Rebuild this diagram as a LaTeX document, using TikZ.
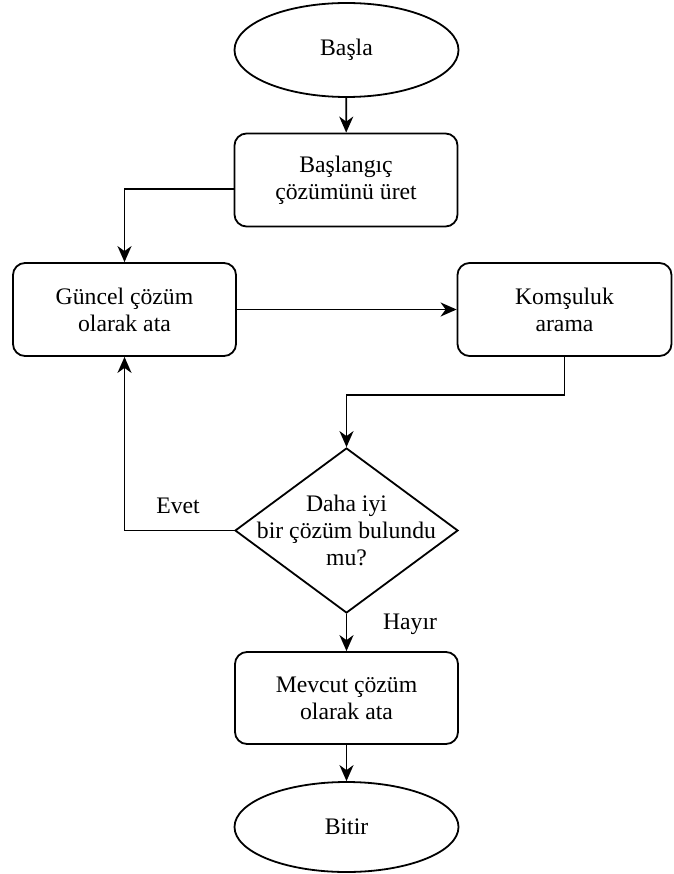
\documentclass[tikz,border=0pt]{standalone}
\usepackage{fontspec}
\setmainfont{Liberation Serif}
\newfontfamily\chartfont{Liberation Serif}
\usetikzlibrary{shapes.geometric,arrows.meta}
\begin{document}
\begin{tikzpicture}[x=1pt,y=-1pt,
  every node/.style={font=\chartfont\fontsize{23.7pt}{27pt}\selectfont, align=center},
  line/.style={line width=1.8pt, line join=miter},
  arr/.style={line, -{Stealth[length=16pt,width=14pt,inset=5pt]}},
  terminal/.style={ellipse, draw, line width=1.8pt, minimum width=224pt, inner sep=0pt},
  procbox/.style={rectangle, draw, line width=1.8pt, rounded corners=12pt, minimum width=223pt, minimum height=93pt, inner sep=0pt},
  decision/.style={diamond, draw, line width=1.8pt, minimum width=223pt, minimum height=165pt, inner sep=0pt},
  edgelabel/.style={inner sep=0pt}]
\useasboundingbox (0,0) rectangle (673,874);

% shapes
\node[terminal, minimum height=94pt] (start) at (346.5,50) {Başla};
\node[procbox] (init) at (346,180) {Başlangıç\\çözümünü üret};
\node[procbox] (cur) at (124.5,309.5) {Güncel çözüm\\olarak ata};
\node[procbox, minimum width=214pt] (nbr) at (564.5,309.5) {Komşuluk\\arama};
\node[decision] (dec) at (346.5,530.5) {};
\node[inner sep=0pt] (dectext) at (dec.center) {Daha iyi\\bir çözüm bulundu\\mu?};
\node[procbox, minimum height=92pt] (keep) at (346.5,698) {Mevcut çözüm\\olarak ata};
\node[terminal, minimum height=90pt] (end) at (346.5,827) {Bitir};

% connectors
\draw[arr] (start) -- (init);
\draw[arr] ([yshift=-9pt]init.west) -| (cur.north);
\draw[arr] (cur.east) -- (nbr.west);
\draw[arr] (nbr.south) -- ++(0,38) -| (dec.north);
\draw[arr] (dec.west) -| (cur.south);
\draw[arr] (dec.south) -- (keep.north);
\draw[arr] (keep.south) -- (end.north);

% branch labels
\node[edgelabel] (yes) at (178,506) {Evet};
\node[edgelabel] (no) at (410,624) {Hayır};
\end{tikzpicture}
\end{document}
